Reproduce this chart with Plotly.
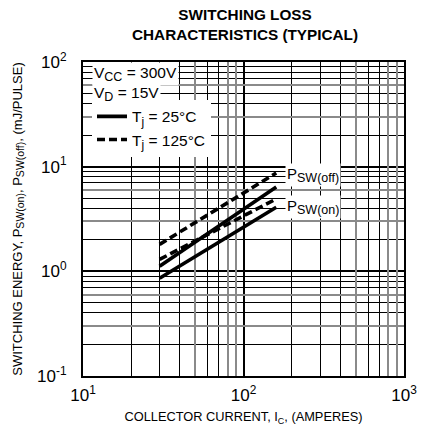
import plotly.graph_objects as go

# ---- data ----
ic_amps = [30, 160]                      # collector current range of curves
psw_off_25 = [1.12, 6.4]                 # Tj = 25 C, P_SW(off)
psw_on_25 = [0.86, 4.1]                  # Tj = 25 C, P_SW(on)
psw_off_125 = [1.81, 8.7]                # Tj = 125 C, P_SW(off)
psw_on_125 = [1.30, 4.92]                # Tj = 125 C, P_SW(on)

x_major = [10, 100, 1000]
x_major_text = ["10<sup>1</sup>", "10<sup>2</sup>", "10<sup>3</sup>"]
y_major = [0.1, 1, 10, 100]
y_major_text = ["10<sup>-1</sup>", "10<sup>0</sup>", "10<sup>1</sup>", "10<sup>2</sup>"]

x_minor_black_digits = [2, 3, 4, 6, 7]
x_minor_gray_digits = [5, 8, 9]
y_minor_black_digits = [2, 4, 5, 7, 8, 9]
y_minor_gray_digits = [3, 6]

FONT = "Liberation Sans, Arial, sans-serif"

def minor_vals(decades, digits):
    return [d * 10 ** e for e in decades for d in digits]

x_black = minor_vals([1, 2], x_minor_black_digits)
x_gray = minor_vals([1, 2], x_minor_gray_digits)
y_black = minor_vals([-1, 0, 1], y_minor_black_digits)
y_gray = minor_vals([-1, 0, 1], y_minor_gray_digits)

# plot area in page pixels x 83..404, y 62..378 (body margin removed by post_script)
PL, PR, PT, PB = 83, 404, 62, 378
PW, PH = PR - PL, PB - PT

def px(x):
    return (x - PL) / PW

def py(y):
    return (PB - y) / PH

def sub(t, size):
    return "<sub><span style='font-size:%spx'>%s</span></sub>" % (size, t)

fig = go.Figure()

LW = 3.6
DASH = "8px,4px"

fig.add_trace(go.Scatter(x=ic_amps, y=psw_off_25, mode="lines",
                         line=dict(color="black", width=LW),
                         name="T" + sub("j", 12) + " = 25°C", legendgroup="25", showlegend=True))
fig.add_trace(go.Scatter(x=ic_amps, y=psw_on_25, mode="lines",
                         line=dict(color="black", width=LW),
                         name="T" + sub("j", 12) + " = 25°C", legendgroup="25", showlegend=False))
fig.add_trace(go.Scatter(x=ic_amps, y=psw_off_125, mode="lines",
                         line=dict(color="black", width=LW, dash=DASH),
                         name="T" + sub("j", 12) + " = 125°C", legendgroup="125", showlegend=True))
fig.add_trace(go.Scatter(x=ic_amps, y=psw_on_125, mode="lines",
                         line=dict(color="black", width=LW, dash=DASH),
                         name="T" + sub("j", 12) + " = 125°C", legendgroup="125", showlegend=False))
# carrier for the gray grid axes
fig.add_trace(go.Scatter(x=[None], y=[None], xaxis="x2", yaxis="y2",
                         showlegend=False, hoverinfo="skip"))

xr = [1, 3]
yr = [-1, 2]

W, H = 431, 434
fig.update_layout(
    width=W, height=H,
    margin=dict(l=PL, r=W - PR, t=PT, b=H - PB),
    paper_bgcolor="white", plot_bgcolor="white",
    font=dict(family=FONT, color="black"),
    xaxis=dict(type="log", range=xr, tickmode="array", tickvals=x_major,
               ticktext=x_major_text, ticks="inside", ticklen=8, tickwidth=2,
               tickcolor="black", showline=True, linecolor="black", linewidth=2,
               mirror=True, showgrid=True, gridcolor="black", gridwidth=2,
               tickfont=dict(size=17, family=FONT), ticklabelstandoff=3,
               minor=dict(tickmode="array", tickvals=x_black, showgrid=True,
                          gridcolor="black", gridwidth=1, ticks=""),
               title=dict(text="COLLECTOR CURRENT, I<sub>C</sub>, (AMPERES)",
                          font=dict(size=12.8, family=FONT), standoff=8),
               zeroline=False),
    yaxis=dict(type="log", range=yr, tickmode="array", tickvals=y_major,
               ticktext=y_major_text, ticks="inside", ticklen=8, tickwidth=2,
               tickcolor="black", showline=True, linecolor="black", linewidth=2,
               mirror=True, showgrid=True, gridcolor="black", gridwidth=1.5,
               tickfont=dict(size=17, family=FONT), ticklabelstandoff=11,
               minor=dict(tickmode="array", tickvals=y_black, showgrid=True,
                          gridcolor="black", gridwidth=1, ticks=""),
               title=dict(text="SWITCHING ENERGY, P" + sub("SW(on)", 10.5) + ", P"
                               + sub("SW(off)", 10.5) + ", (mJ/PULSE)",
                          font=dict(size=13, family=FONT), standoff=12),
               zeroline=False),
    xaxis2=dict(type="log", range=xr, overlaying="x", tickmode="array",
                tickvals=x_gray, showticklabels=False, ticks="", showline=False,
                showgrid=True, gridcolor="#8a8a8a", gridwidth=1.6, zeroline=False),
    yaxis2=dict(type="log", range=yr, overlaying="y", tickmode="array",
                tickvals=y_gray, showticklabels=False, ticks="", showline=False,
                showgrid=True, gridcolor="#8a8a8a", gridwidth=1.6, zeroline=False),
    legend=dict(x=px(92), xanchor="left", y=py(100), yanchor="top",
                bgcolor="white", borderwidth=0, font=dict(size=15.5, family=FONT),
                tracegroupgap=0, itemclick=False),
    showlegend=True,
)

fig.add_annotation(text="<b>SWITCHING LOSS<br>CHARACTERISTICS (TYPICAL)</b>",
                   xref="paper", yref="paper", x=px(245), y=py(24),
                   xanchor="center", yanchor="middle", showarrow=False, borderpad=0,
                   font=dict(size=15.3, family=FONT, color="black"))

ann_font = dict(size=15.5, family=FONT, color="black")
fig.add_annotation(text="V" + sub("CC", 12.5) + " = 300V", xref="paper", yref="paper",
                   x=px(92), y=py(74), xanchor="left", yanchor="middle",
                   showarrow=False, bgcolor="white", font=ann_font)
fig.add_annotation(text="V" + sub("D", 12.5) + " = 15V", xref="paper", yref="paper",
                   x=px(92), y=py(94), xanchor="left", yanchor="middle",
                   showarrow=False, bgcolor="white", font=ann_font)
lab_font = dict(size=15, family=FONT, color="black")
fig.add_annotation(text="P" + sub("SW(off)", 12.5),
                   xref="paper", yref="paper",
                   x=px(285), y=py(176), xanchor="left", yanchor="middle",
                   showarrow=False, bgcolor="white", font=lab_font)
fig.add_annotation(text="P" + sub("SW(on)", 12.5),
                   xref="paper", yref="paper",
                   x=px(285), y=py(208), xanchor="left", yanchor="middle",
                   showarrow=False, bgcolor="white", font=lab_font)

fig.write_html("out.html", config={"displayModeBar": False},
               post_script="document.body.style.margin='0';document.body.style.overflow='hidden';")
